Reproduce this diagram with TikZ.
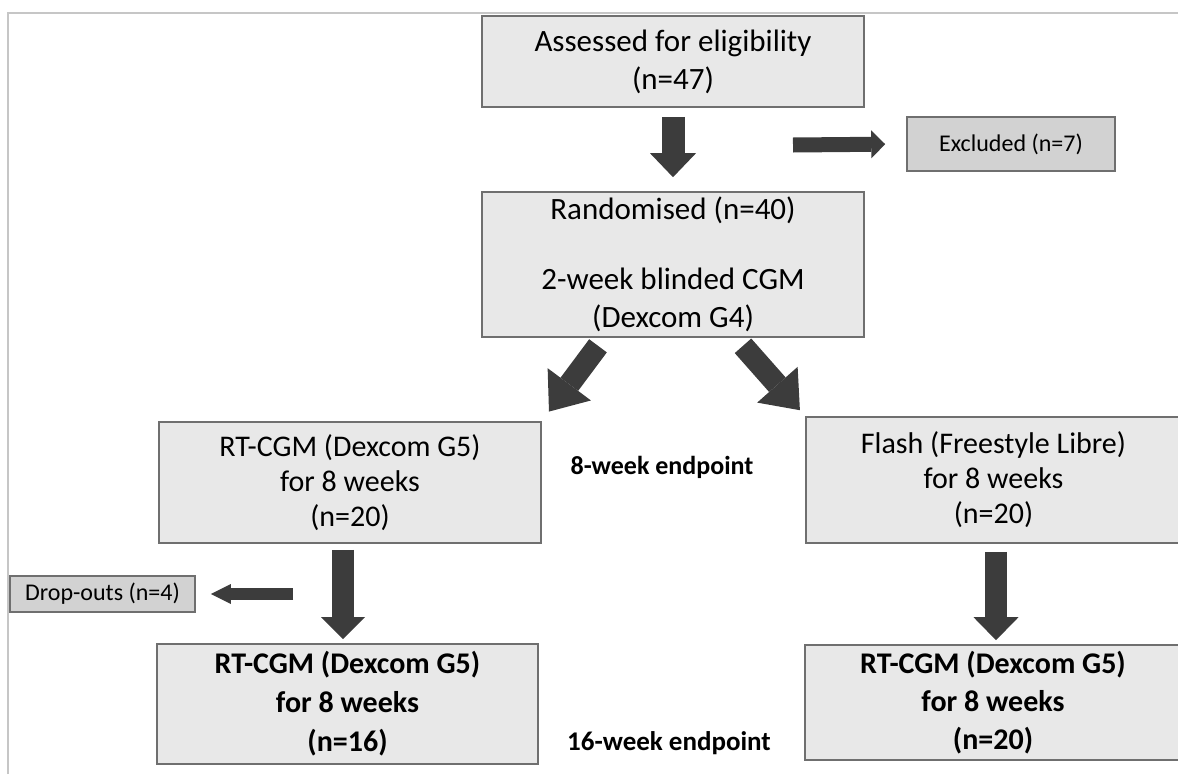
\documentclass[tikz,border=0pt]{standalone}
\usepackage{fontspec}
\setmainfont{Carlito}
\usetikzlibrary{arrows.meta}

\definecolor{boxfill}{HTML}{E8E8E8}
\definecolor{sidefill}{HTML}{D2D2D2}
\definecolor{boxline}{HTML}{6F6F6F}
\definecolor{arrowgray}{HTML}{3C3C3C}
\definecolor{framegray}{HTML}{C6C6C6}

\tikzset{
  stage/.style={draw=boxline, fill=boxfill, line width=1.6pt, align=center, inner sep=0pt},
  side/.style={stage, fill=sidefill, font=\fontsize{24}{29}\selectfont},
  blockarrow/.style n args={3}{draw=arrowgray, line width=#1, -{Triangle[length=#2,width=#3,line width=0pt]}}
}

\begin{document}
\begin{tikzpicture}[x=1pt,y=-1pt]
    \useasboundingbox (0,0) rectangle (1178,774);

    % Draw the frame
    \draw[framegray, line width=2pt] (8,774) -- (8,13) -- (1178,13);

    % Boxes at the top
    \node[stage, minimum width=382pt, minimum height=91pt, font=\fontsize{31}{38}\selectfont] (assessed) at (673,61.5) {Assessed for eligibility\\(n=47)};
    \node[stage, minimum width=382pt, minimum height=145pt, font=\fontsize{31}{38}\selectfont] (random) at (673,264.5) {Randomised (n=40)\\[32pt]2-week blinded CGM\\(Dexcom G4)};
    \node[side, minimum width=208pt, minimum height=54pt] (excluded) at (1011,144) {Excluded (n=7)};

    % The two arms
    \node[stage, minimum width=382pt, minimum height=121pt, font=\fontsize{30}{35}\selectfont] (rtcgm) at (350,482.5) {RT-CGM (Dexcom G5)\\for 8 weeks\\(n=20)};
    \node[stage, minimum width=375pt, minimum height=126pt, font=\fontsize{30}{35}\selectfont] (flash) at (993.5,480) {Flash (Freestyle Libre)\\for 8 weeks\\(n=20)};
    \node[side, minimum width=185pt, minimum height=36pt] (dropout) at (102.5,594) {Drop-outs (n=4)};

    % Boxes at the bottom
    \node[stage, minimum width=381pt, minimum height=120pt, font=\bfseries\fontsize{30}{39}\selectfont] (rtend) at (347.5,704) {RT-CGM (Dexcom G5)\\for 8 weeks\\(n=16)};
    \node[stage, minimum width=376pt, minimum height=115pt, font=\bfseries\fontsize{30}{38}\selectfont] (flashend) at (993,702.5) {RT-CGM (Dexcom G5)\\for 8 weeks\\(n=20)};

    % Endpoint labels
    \node[font=\bfseries\fontsize{26}{31}\selectfont] (week8) at (662,467) {8-week endpoint};
    \node[font=\bfseries\fontsize{27}{32}\selectfont] (week16) at (669,743) {16-week endpoint};

    % Draw the arrows
    \coordinate (exstart) at (793,145);
    \coordinate (dropstart) at (293,594);
    \draw[blockarrow={23pt}{24pt}{46pt}, shorten <=9pt, shorten >=14pt] (assessed.south) -- (random.north);
    \draw[blockarrow={15pt}{14pt}{28pt}, shorten >=21pt] (exstart) -- (excluded.west);
    \draw[blockarrow={22pt}{34pt}{54pt}, shorten >=12pt] ([xshift=-75pt,yshift=-8pt]random.south) -- (rtcgm.north east);
    \draw[blockarrow={22pt}{34pt}{54pt}, shorten >=8pt] ([xshift=70pt,yshift=-8pt]random.south) -- (flash.north west);
    \draw[blockarrow={22pt}{22pt}{44pt}, shorten <=6pt, shorten >=4pt] ([xshift=-7pt]rtcgm.south) -- ([xshift=-4.5pt]rtend.north);
    \draw[blockarrow={22pt}{23pt}{45pt}, shorten <=8pt, shorten >=4pt] ([xshift=2.5pt]flash.south) -- ([xshift=3pt]flashend.north);
    \draw[blockarrow={12pt}{20pt}{20pt}, shorten >=15pt] (dropstart) -- (dropout.east);
\end{tikzpicture}
\end{document}
